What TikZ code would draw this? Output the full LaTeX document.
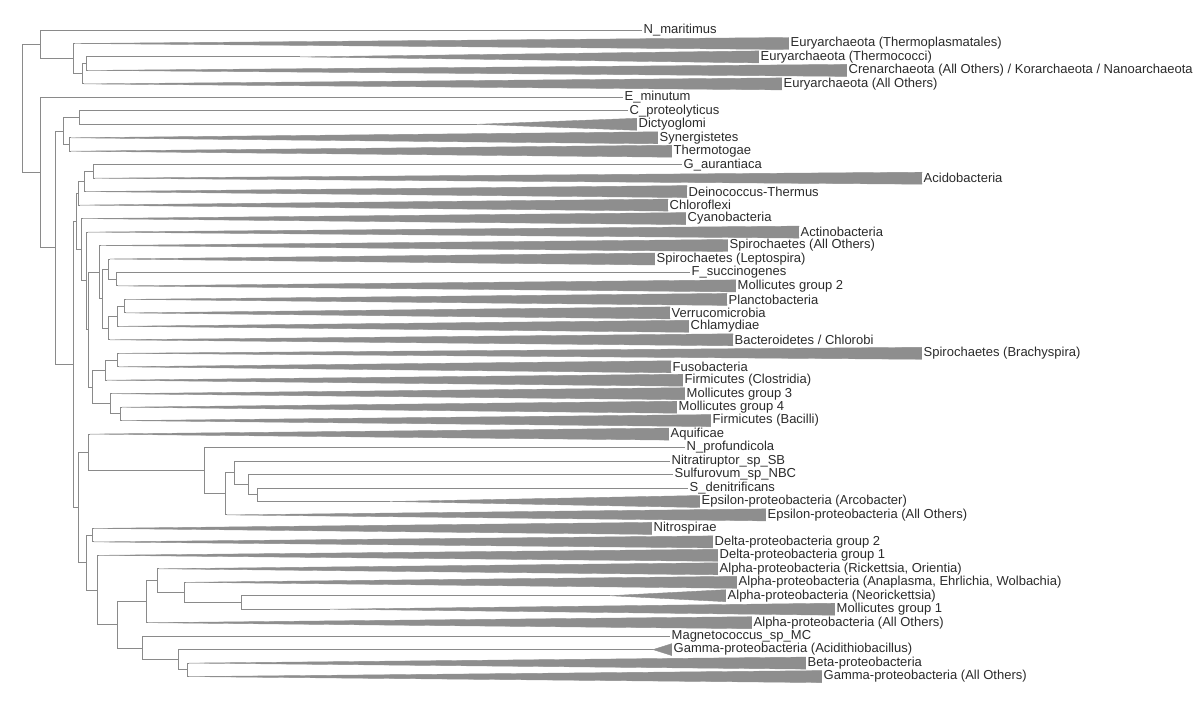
\documentclass[tikz,border=0pt]{standalone}
\usepackage{fontspec}
\setmainfont{Liberation Sans}
\usetikzlibrary{backgrounds}
\definecolor{cline}{HTML}{8A8A8A}
\definecolor{cwedge}{HTML}{8E8E8E}
\definecolor{ctext}{HTML}{2B2B2B}

\begin{document}
\begin{tikzpicture}[x=1pt,y=-1pt,
  branch/.style={cline,line width=0.9pt},
  wedge/.style={fill=cwedge,draw=cwedge,line width=0.4pt,line join=round},
  lbl/.style={anchor=west,fill=white,inner xsep=1.5pt,inner ysep=0.3pt,
    text=ctext,font=\fontsize{13}{15}\selectfont}]
  \useasboundingbox (0,0) rectangle (1200,703);

  % inner nodes
  \coordinate (r) at (22,108.4);
  \coordinate (a1) at (40,44.3);
  \coordinate (a2) at (73,58.6);
  \coordinate (a3) at (82,73.8);
  \coordinate (a4) at (86,63.7);
  \coordinate (b1) at (40,172.6);
  \coordinate (b2) at (55,247.8);
  \coordinate (b3) at (63,131.0);
  \coordinate (b4a) at (79,117.6);
  \coordinate (b4b) at (69,144.5);
  \coordinate (b5) at (73,364.5);
  \coordinate (c1) at (76,221.5);
  \coordinate (c2) at (78,193.3);
  \coordinate (c3) at (84,181.5);
  \coordinate (c4) at (93,171.4);
  \coordinate (c5) at (81,249.7);
  \coordinate (c6) at (86,280.8);
  \coordinate (c7) at (88,329.5);
  \coordinate (c8) at (99,272.0);
  \coordinate (c9) at (102,298.6);
  \coordinate (c10) at (108,269.1);
  \coordinate (c11) at (116,279.2);
  \coordinate (c12) at (108,328.0);
  \coordinate (c13) at (117,316.2);
  \coordinate (c14) at (124,306.1);
  \coordinate (f1) at (92,387.0);
  \coordinate (f2) at (105,370.1);
  \coordinate (f3) at (117,360.0);
  \coordinate (f4) at (110,403.8);
  \coordinate (f5) at (120,413.9);
  \coordinate (d1) at (78,507.5);
  \coordinate (e1) at (88,452.4);
  \coordinate (e2) at (204,470.7);
  \coordinate (e3) at (225,493.9);
  \coordinate (e4) at (234,472.8);
  \coordinate (e5) at (248,484.6);
  \coordinate (e6) at (257,494.7);
  \coordinate (g1) at (86,562.6);
  \coordinate (g2) at (92,535.1);
  \coordinate (g3) at (97,590.0);
  \coordinate (g4) at (117,624.8);
  \coordinate (h1) at (146,601.6);
  \coordinate (h2) at (157,580.6);
  \coordinate (h3) at (184,592.4);
  \coordinate (h4) at (241,602.5);
  \coordinate (k1) at (142,648.0);
  \coordinate (k2) at (178,659.7);
  \coordinate (k3) at (187,669.8);

  % leaves
  \node[lbl] (nmar) at (642,30.0) {N\_maritimus};
  \node[lbl] (thpl) at (789,43.5) {Euryarchaeota (Thermoplasmatales)};
  \node[lbl] (thco) at (759,56.9) {Euryarchaeota (Thermococci)};
  \node[lbl] (cren) at (847,70.4) {Crenarchaeota (All Others) / Korarchaeota / Nanoarchaeota};
  \node[lbl] (eury) at (782,83.9) {Euryarchaeota (All Others)};
  \node[lbl] (emin) at (623,97.4) {E\_minutum};
  \node[lbl] (cpro) at (628,110.8) {C\_proteolyticus};
  \node[lbl] (dict) at (637,124.3) {Dictyoglomi};
  \node[lbl] (syne) at (658,137.8) {Synergistetes};
  \node[lbl] (ttog) at (672,151.2) {Thermotogae};
  \node[lbl] (gaur) at (682,164.7) {G\_aurantiaca};
  \node[lbl] (acid) at (922,178.2) {Acidobacteria};
  \node[lbl] (dein) at (687,191.6) {Deinococcus-Thermus};
  \node[lbl] (chlf) at (668,205.1) {Chloroflexi};
  \node[lbl] (cyan) at (686,218.6) {Cyanobacteria};
  \node[lbl] (actn) at (799,232.1) {Actinobacteria};
  \node[lbl] (spao) at (728,245.5) {Spirochaetes (All Others)};
  \node[lbl] (splp) at (655,259.0) {Spirochaetes (Leptospira)};
  \node[lbl] (fsuc) at (690,272.5) {F\_succinogenes};
  \node[lbl] (mol2) at (736,285.9) {Mollicutes group 2};
  \node[lbl] (plan) at (727,299.4) {Planctobacteria};
  \node[lbl] (verr) at (670,312.9) {Verrucomicrobia};
  \node[lbl] (chla) at (689,326.3) {Chlamydiae};
  \node[lbl] (bact) at (733,339.8) {Bacteroidetes / Chlorobi};
  \node[lbl] (spbr) at (922,353.3) {Spirochaetes (Brachyspira)};
  \node[lbl] (fuso) at (671,366.8) {Fusobacteria};
  \node[lbl] (clos) at (683,380.2) {Firmicutes (Clostridia)};
  \node[lbl] (mol3) at (685,393.7) {Mollicutes group 3};
  \node[lbl] (mol4) at (677,407.2) {Mollicutes group 4};
  \node[lbl] (baci) at (711,420.6) {Firmicutes (Bacilli)};
  \node[lbl] (aqui) at (669,434.1) {Aquificae};
  \node[lbl] (npro) at (685,447.6) {N\_profundicola};
  \node[lbl] (nitr) at (670,461.0) {Nitratiruptor\_sp\_SB};
  \node[lbl] (sulf) at (673,474.5) {Sulfurovum\_sp\_NBC};
  \node[lbl] (sden) at (688,488.0) {S\_denitrificans};
  \node[lbl] (arco) at (700,501.5) {Epsilon-proteobacteria (Arcobacter)};
  \node[lbl] (epsi) at (766,514.9) {Epsilon-proteobacteria (All Others)};
  \node[lbl] (nisp) at (652,528.4) {Nitrospirae};
  \node[lbl] (del2) at (713,541.9) {Delta-proteobacteria group 2};
  \node[lbl] (del1) at (718,555.3) {Delta-proteobacteria group 1};
  \node[lbl] (rick) at (718,568.8) {Alpha-proteobacteria (Rickettsia, Orientia)};
  \node[lbl] (anap) at (737,582.3) {Alpha-proteobacteria (Anaplasma, Ehrlichia, Wolbachia)};
  \node[lbl] (neor) at (726,595.7) {Alpha-proteobacteria (Neorickettsia)};
  \node[lbl] (mol1) at (835,609.2) {Mollicutes group 1};
  \node[lbl] (alph) at (752,622.7) {Alpha-proteobacteria (All Others)};
  \node[lbl] (magn) at (670,636.2) {Magnetococcus\_sp\_MC};
  \node[lbl] (gaci) at (672,649.6) {Gamma-proteobacteria (Acidithiobacillus)};
  \node[lbl] (beta) at (806,663.1) {Beta-proteobacteria};
  \node[lbl] (gamm) at (822,676.6) {Gamma-proteobacteria (All Others)};

  \begin{scope}[on background layer]
    % collapsed clades
    \foreach \q/\x in {thpl/75,thco/300,cren/88,eury/84,dict/477,syne/71,
        ttog/71,acid/95,dein/86,chlf/80,cyan/83,actn/88,spao/101,splp/110,
        mol2/118,plan/126,verr/126,chla/119,bact/110,spbr/119,fuso/119,
        clos/107,mol3/112,mol4/122,baci/122,aqui/90,arco/390,epsi/227,
        nisp/94,del2/94,del1/99,rick/159,anap/186,neor/610,mol1/330,
        alph/148,gaci/653,beta/189,gamm/189}{
      \coordinate (\q-a) at (\x,0 |- \q.west);
      \fill[wedge] (\q-a) -- ([yshift=6pt]\q.west) -- ([yshift=-6pt]\q.west) -- cycle;
    }
    % branches
    \foreach \p/\q in {r/a1,r/b1,a1/nmar.west,a1/a2,a2/thpl-a,a2/a3,
        a3/a4,a3/eury-a,a4/thco-a,a4/cren-a,b1/emin.west,b1/b2,b2/b3,b2/b5,
        b3/b4a,b3/b4b,b4a/cpro.west,b4a/dict-a,b4b/syne-a,b4b/ttog-a,
        b5/c1,b5/d1,c1/c2,c1/c5,c2/c3,c2/chlf-a,c3/c4,c3/dein-a,
        c4/gaur.west,c4/acid-a,c5/cyan-a,c5/c6,c6/actn-a,c6/c7,c7/c8,c7/f1,
        c8/spao-a,c8/c9,c9/c10,c9/c12,c10/splp-a,c10/c11,c11/fsuc.west,
        c11/mol2-a,c12/c13,c12/bact-a,c13/c14,c13/chla-a,c14/plan-a,
        c14/verr-a,f1/f2,f1/f4,f2/f3,f2/clos-a,f3/spbr-a,f3/fuso-a,
        f4/mol3-a,f4/f5,f5/mol4-a,f5/baci-a,d1/e1,d1/g1,e1/aqui-a,e1/e2,
        e2/npro.west,e2/e3,e3/e4,e3/epsi-a,e4/nitr.west,e4/e5,
        e5/sulf.west,e5/e6,e6/sden.west,e6/arco-a,g1/g2,g1/g3,g2/nisp-a,
        g2/del2-a,g3/del1-a,g3/g4,g4/h1,g4/k1,h1/h2,h1/alph-a,h2/rick-a,
        h2/h3,h3/anap-a,h3/h4,h4/neor-a,h4/mol1-a,k1/magn.west,k1/k2,
        k2/gaci-a,k2/k3,k3/beta-a,k3/gamm-a}
      \draw[branch] (\p) |- (\q);
  \end{scope}
\end{tikzpicture}
\end{document}
